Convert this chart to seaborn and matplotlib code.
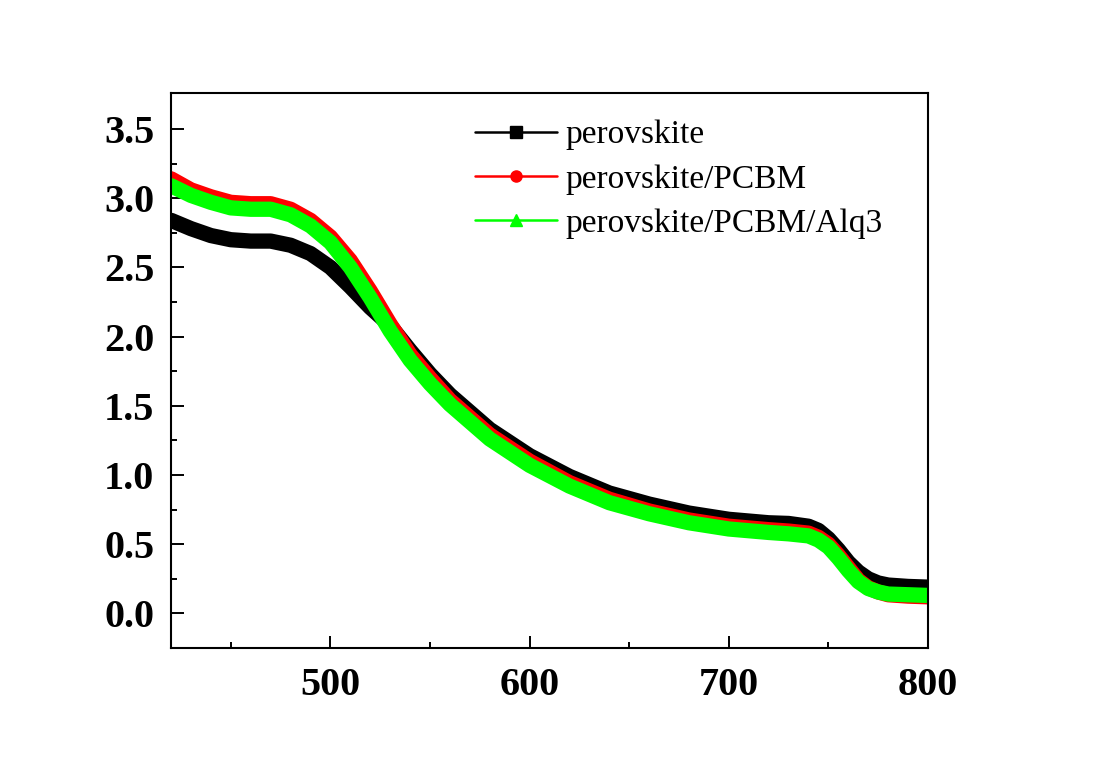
import numpy as np
import pandas as pd
import matplotlib
matplotlib.use('Agg')
import matplotlib.pyplot as plt
from matplotlib.lines import Line2D
from matplotlib.ticker import FixedLocator
import seaborn as sns

# Wavelength (nm) and absorbance
wavelength = [420, 430, 440, 450, 460, 470, 480, 490, 500, 510, 520, 530, 540,
              550, 560, 580, 600, 620, 640, 660, 680, 700, 720, 730, 740, 745,
              750, 755, 760, 765, 770, 775, 780, 790, 800]

perovskite = [2.84, 2.78, 2.73, 2.70, 2.69, 2.69, 2.66, 2.60, 2.50, 2.36, 2.21,
              2.08, 1.90, 1.73, 1.58, 1.33, 1.14, 0.99, 0.87, 0.79, 0.725, 0.68,
              0.655, 0.65, 0.63, 0.60, 0.54, 0.46, 0.37, 0.30, 0.25, 0.22, 0.205,
              0.195, 0.19]

perovskite_pcbm = [3.14, 3.06, 3.01, 2.97, 2.96, 2.96, 2.92, 2.84, 2.72, 2.55,
                   2.33, 2.09, 1.87, 1.70, 1.54, 1.29, 1.10, 0.945, 0.825, 0.74,
                   0.675, 0.63, 0.605, 0.595, 0.58, 0.55, 0.50, 0.42, 0.33, 0.24,
                   0.185, 0.155, 0.135, 0.125, 0.12]

perovskite_pcbm_alq3 = [3.09, 3.02, 2.97, 2.93, 2.92, 2.92, 2.88, 2.80, 2.68,
                        2.50, 2.28, 2.04, 1.83, 1.66, 1.51, 1.26, 1.07, 0.92,
                        0.80, 0.72, 0.655, 0.61, 0.585, 0.575, 0.56, 0.53, 0.48,
                        0.40, 0.31, 0.23, 0.18, 0.155, 0.14, 0.135, 0.13]

labels = ['perovskite', 'perovskite/PCBM', 'perovskite/PCBM/Alq3']
colors = ['#000000', '#ff0000', '#00ff00']
markers = ['s', 'o', '^']

x_major = [500, 600, 700, 800]
x_minor = [450, 550, 650, 750]
y_major = [0.0, 0.5, 1.0, 1.5, 2.0, 2.5, 3.0, 3.5]
y_minor = [0.25, 0.75, 1.25, 1.75, 2.25, 2.75, 3.25]

df = pd.concat([
    pd.DataFrame({'wl': wavelength, 'abs': perovskite, 'sample': labels[0]}),
    pd.DataFrame({'wl': wavelength, 'abs': perovskite_pcbm, 'sample': labels[1]}),
    pd.DataFrame({'wl': wavelength, 'abs': perovskite_pcbm_alq3, 'sample': labels[2]}),
])

sns.set_style('ticks')
plt.rcParams['font.family'] = ['Liberation Serif', 'DejaVu Serif']
plt.rcParams['text.color'] = 'black'

fig = plt.figure(figsize=(11.15, 7.71), dpi=100)
ax = fig.add_axes([0.1534, 0.1595, 0.8323 - 0.1534, 0.8794 - 0.1595])

sns.lineplot(data=df, x='wl', y='abs', hue='sample', hue_order=labels,
             palette=colors, linewidth=11, estimator=None, sort=False,
             legend=False, ax=ax)

ax.set_xlim(420, 800)
ax.set_ylim(-0.25, 3.76)
ax.set_xticks(x_major)
ax.set_yticks(y_major)
ax.xaxis.set_minor_locator(FixedLocator(x_minor))
ax.yaxis.set_minor_locator(FixedLocator(y_minor))
ax.yaxis.set_major_formatter(plt.FormatStrFormatter('%.1f'))
ax.set_xlabel('')
ax.set_ylabel('')

ax.tick_params(which='major', direction='in', length=9, width=1.4,
               labelsize=29, pad=12, color='black', labelcolor='black')
ax.tick_params(which='minor', direction='in', length=4.5, width=1.4,
               color='black')
ax.tick_params(axis='x', pad=14)
for lab in ax.get_xticklabels() + ax.get_yticklabels():
    lab.set_fontweight('bold')
for sp in ax.spines.values():
    sp.set_visible(True)
    sp.set_linewidth(1.5)
    sp.set_color('black')

handles = [Line2D([], [], color=c, marker=m, markersize=8, linewidth=1.8)
           for c, m in zip(colors, markers)]
fig.legend(handles, labels, loc='upper left',
           bbox_to_anchor=(475 / 1115, 1 - 120 / 771), frameon=False,
           fontsize=24, handlelength=2.45, handletextpad=0.25,
           labelspacing=0.41, borderpad=0, borderaxespad=0)

fig.savefig('out.png', dpi=100, facecolor='white')
